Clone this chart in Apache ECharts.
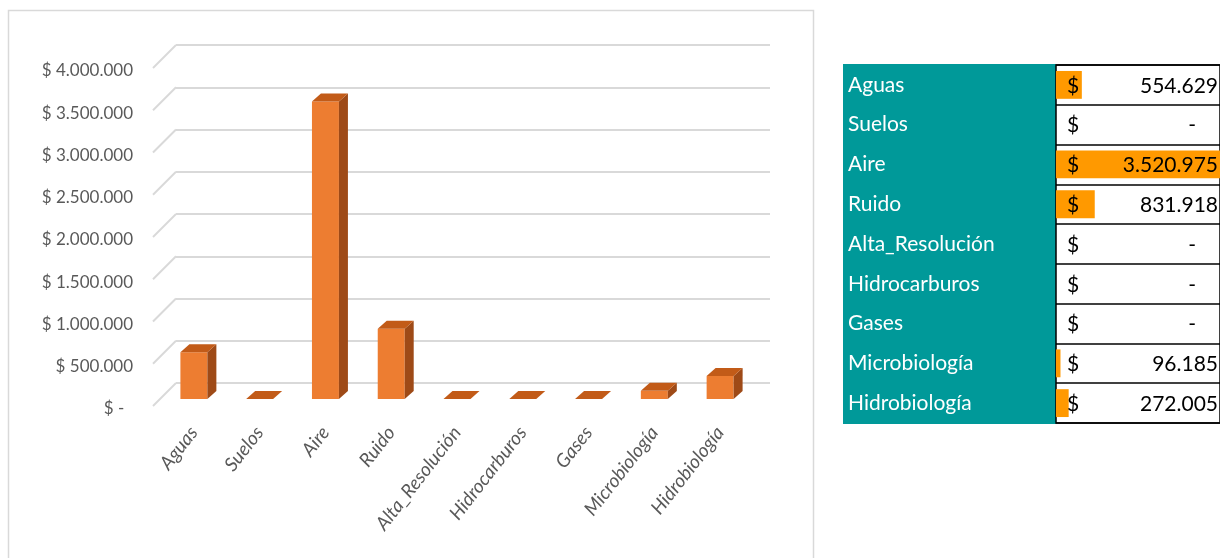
<!DOCTYPE html>
<html>
<head>
<meta charset="utf-8">
<script src="https://cdn.jsdelivr.net/npm/echarts@6/dist/echarts.min.js"></script>
<style>
html,body{margin:0;padding:0;background:#fff;}
#chart{width:1220px;height:558px;}
</style>
</head>
<body>
<div id="chart"></div>
<script>
// ---- data ----
const categories = ['Aguas', 'Suelos', 'Aire', 'Ruido', 'Alta_Resolución', 'Hidrocarburos', 'Gases', 'Microbiología', 'Hidrobiología'];
const costs = [554629, 0, 3520975, 831918, 0, 0, 0, 96185, 272005];
const yTicks = [0, 500000, 1000000, 1500000, 2000000, 2500000, 3000000, 3500000, 4000000];
const yMin = 0, yMax = 4000000, yStep = 500000;

// ---- helpers ----
function fmt(v) { return String(v).replace(/\B(?=(\d{3})+(?!\d))/g, '.'); }
const FONT = "Lato, 'Open Sans', sans-serif";
const DX = 9, DY = 8;        // 3D depth offset of bars
const WALL_DX = 23, WALL_DY = 23;

const chart = echarts.init(document.getElementById('chart'));
const option = {
  backgroundColor: '#ffffff',
  animation: false,
  graphic: [{
    type: 'rect', silent: true,
    shape: { x: 8.5, y: 10.5, width: 805, height: 560 },
    style: { fill: 'none', stroke: '#d9d9d9', lineWidth: 1.5 }
  }],
  grid: [
    { left: 176, right: 450, top: 45, bottom: 175 },                 // back wall
    { left: 161, right: 467, top: 61, bottom: 159 },                 // bars plane
    { left: 843, width: 213, top: 64, height: 360, show: true, backgroundColor: '#009999', borderWidth: 0 }, // names column
    { left: 1056, width: 168, top: 65, height: 358, show: true, backgroundColor: '#ffffff', borderColor: '#000000', borderWidth: 1.5 } // values column
  ],
  xAxis: [
    { gridIndex: 0, type: 'category', data: categories, show: false },
    { gridIndex: 1, type: 'category', data: categories,
      axisLine: { show: false }, axisTick: { show: false },
      axisLabel: { interval: 0, rotate: 52, margin: 30, color: '#595959', fontSize: 19, fontStyle: 'italic', fontFamily: FONT } },
    { gridIndex: 2, type: 'value', show: false },
    { gridIndex: 3, type: 'value', min: 0, max: Math.max.apply(null, costs), show: false }
  ],
  yAxis: [
    { gridIndex: 0, type: 'value', min: yMin, max: yMax, interval: yStep,
      axisLine: { show: false }, axisTick: { show: false }, axisLabel: { show: false },
      splitLine: { lineStyle: { color: '#d9d9d9', width: 2 } } },
    { gridIndex: 1, type: 'value', min: yMin, max: yMax, interval: yStep,
      axisLine: { show: false }, axisTick: { show: false }, splitLine: { show: false },
      axisLabel: { margin: 28, lineHeight: 20, color: '#595959', fontSize: 17, fontFamily: FONT,
        showMinLabel: true, showMaxLabel: true, hideOverlap: false,
        formatter: function (v) { return '\n' + (v === 0 ? '$ -  ' : '$ ' + fmt(v)); } } },
    { gridIndex: 2, type: 'category', show: false, data: categories },
    { gridIndex: 3, type: 'category', data: categories, inverse: true,
      axisLine: { show: false }, axisTick: { show: false },
      splitLine: { show: true, lineStyle: { color: '#000000', width: 1.5 } },
      axisLabel: { align: 'left', margin: 208, color: '#ffffff', fontSize: 21, fontFamily: FONT } }
  ],
  series: [
    { // diagonal side-wall lines
      type: 'custom', xAxisIndex: 0, yAxisIndex: 0, silent: true, clip: false,
      data: yTicks.map(function (v) { return [0, v]; }),
      renderItem: function (params, api) {
        const cs = params.coordSys;
        const y = api.coord([0, api.value(1)])[1];
        return { type: 'line', shape: { x1: cs.x - WALL_DX, y1: y + WALL_DY, x2: cs.x, y2: y },
          style: { stroke: '#d9d9d9', lineWidth: 2 } };
      }
    },
    { // 3D bars
      type: 'custom', xAxisIndex: 1, yAxisIndex: 1, silent: true, clip: false,
      data: costs.map(function (v, i) { return [i, v]; }),
      renderItem: function (params, api) {
        const i = api.value(0), v = api.value(1);
        const base = api.coord([i, 0]);
        const top = api.coord([i, v]);
        const w = api.size([1, 0])[0] * 0.41;
        const x0 = base[0] - w / 2, x1 = base[0] + w / 2;
        const yt = top[1], yb = base[1];
        const children = [];
        if (yb - yt > 0.5) {
          children.push({ type: 'rect', shape: { x: x0, y: yt, width: w, height: yb - yt }, style: { fill: '#ed7d31' } });
          children.push({ type: 'polygon', shape: { points: [[x1, yt], [x1 + DX, yt - DY], [x1 + DX, yb - DY], [x1, yb]] }, style: { fill: '#9e4a17' } });
        }
        children.push({ type: 'polygon', shape: { points: [[x0, yt], [x0 + DX, yt - DY], [x1 + DX, yt - DY], [x1, yt]] }, style: { fill: '#c25b18' } });
        return { type: 'group', children: children };
      }
    },
    { // data bars in table
      type: 'bar', xAxisIndex: 3, yAxisIndex: 3, silent: true, barWidth: '70%',
      itemStyle: { color: '#ff9900' }, data: costs
    },
    { // table text
      type: 'custom', xAxisIndex: 3, yAxisIndex: 3, silent: true, clip: false, z: 5,
      data: costs.map(function (v, i) { return [v, i]; }),
      renderItem: function (params, api) {
        const cs = params.coordSys;
        const v = api.value(0);
        const y = api.coord([0, api.value(1)])[1] + 1;
        return { type: 'group', children: [
          { type: 'text', style: { text: '$', x: cs.x + 11, y: y, verticalAlign: 'middle', align: 'left', fill: '#000', font: '21px ' + FONT } },
          { type: 'text', style: { text: v === 0 ? '-' : fmt(v), x: v === 0 ? cs.x + 140 : cs.x + 162, y: y, verticalAlign: 'middle', align: 'right', fill: '#000', font: '21px ' + FONT } }
        ] };
      }
    }
  ]
};
chart.setOption(option);
</script>
</body>
</html>
